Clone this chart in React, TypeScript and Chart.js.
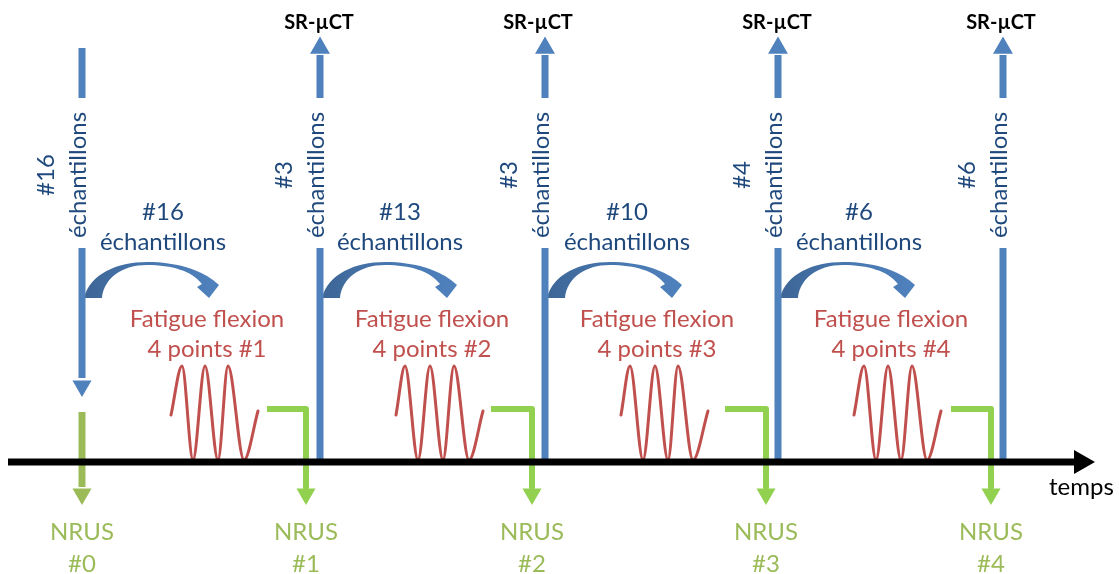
import React, { useEffect, useRef } from 'react';
import { Chart, registerables } from 'chart.js';

Chart.register(...registerables);

const W = 1119;
const H = 574;

// ---- time axis ----
const axisStartX = 8;
const axisEndX = 1075;
const axisArrowX = 1081;
const axisY = 462;
const axisLabel = 'temps';
const axisLabelX = 1049;
const axisLabelY = 495;

// ---- blue sample lines ----
const sampleLineX = [82, 320, 545, 778, 1003];
const sampleTopY = [48, 55, 55, 55, 55];
const gapTopY = 98;
const gapBottomY = 248;
const sampleBottomY = [378, 461, 461, 461, 461];
const srArrowX = [320, 545, 778, 1003];
const srArrowY = 48;
const firstDownArrowY = 386;

const srLabel = 'SR-µCT';
const srLabelX = [319, 538, 777, 1001];
const srLabelY = 29;

const sampleCounts = ['#16', '#3', '#3', '#4', '#6'];
const sampleWord = 'échantillons';
const rotatedLabelY = 175;

// ---- transfers (curved arrows) ----
const transferX = [82, 320, 545, 778];
const transferCounts = ['#16', '#13', '#10', '#6'];
const transferLabelX = [163, 400, 627, 859];
const transferLabelY = [220, 250];

// ---- fatigue ----
const fatigueTitle = 'Fatigue flexion';
const fatigueSub = ['4 points #1', '4 points #2', '4 points #3', '4 points #4'];
const fatigueLabelX = [207, 432, 657, 891];
const fatigueLabelY = [327, 357];
const waveX1 = [171, 182, 193, 205, 218, 228, 244, 258];
const waveX2 = [396, 405, 418, 430, 443, 454, 469, 483];
const waveX3 = [621, 630, 643, 655, 668, 678, 693, 708];
const waveX4 = [854, 864, 876, 888, 901, 912, 927, 941];
const waveY = [415, 366, 460, 366, 460, 366, 460, 411];

// ---- NRUS ----
const nrusX = [82, 306, 532, 766, 991];
const nrusLabels = ['#0', '#1', '#2', '#3', '#4'];
const nrusLabelY = [540, 572];
const greenStartX = [267, 491, 725, 951];
const greenY = 409;
const firstGreenTopY = 412;
const greenBottomY = 487;
const greenArrowY = 494;

const BLUE = '#4f81bd';
const DARK_BLUE = '#1f497d';
const RED = '#c0504d';
const GREEN = '#92d050';
const OLIVE = '#9bbb59';
const FONT = 'Lato, "Open Sans", sans-serif';

const pts = (xs: number[], ys: number[]) => xs.map((x, i) => ({ x, y: ys[i] }));

function lineDs(data: { x: number; y: number }[], color: string, width: number, extra: any = {}) {
  return {
    data,
    showLine: true,
    borderColor: color,
    borderWidth: width,
    pointRadius: 0,
    fill: false,
    tension: 0,
    clip: false,
    borderCapStyle: 'butt',
    borderJoinStyle: 'miter',
    ...extra,
  };
}

function arrowDs(data: { x: number; y: number }[], color: string, radius: number, rotation: number) {
  return {
    data,
    showLine: false,
    pointStyle: 'triangle',
    pointRadius: radius,
    pointRotation: rotation,
    pointBackgroundColor: color,
    pointBorderWidth: 0,
    pointBorderColor: color,
    clip: false,
  };
}

function buildDatasets() {
  const ds: any[] = [];
  // time axis
  ds.push(lineDs([{ x: axisStartX, y: axisY }, { x: axisEndX, y: axisY }], '#000000', 7));
  ds.push(arrowDs([{ x: axisArrowX, y: axisY }], '#000000', 14, 90));
  // blue sample lines
  sampleLineX.forEach((x, i) => {
    ds.push(lineDs([{ x, y: sampleTopY[i] }, { x, y: gapTopY }], BLUE, 7));
    ds.push(lineDs([{ x, y: gapBottomY }, { x, y: sampleBottomY[i] }], BLUE, 7));
  });
  ds.push(arrowDs(srArrowX.map((x) => ({ x, y: srArrowY })), BLUE, 11.5, 0));
  ds.push(arrowDs([{ x: sampleLineX[0], y: firstDownArrowY }], BLUE, 11, 180));
  // fatigue waves
  [waveX1, waveX2, waveX3, waveX4].forEach((xs) => {
    ds.push(lineDs(pts(xs, waveY), RED, 3, { cubicInterpolationMode: 'monotone', borderCapStyle: 'round' }));
  });
  // NRUS green
  ds.push(lineDs([{ x: nrusX[0], y: firstGreenTopY }, { x: nrusX[0], y: greenBottomY }], OLIVE, 7));
  greenStartX.forEach((sx, i) => {
    const x = nrusX[i + 1];
    ds.push(
      lineDs([{ x: sx, y: greenY }, { x, y: greenY }, { x, y: greenBottomY }], GREEN, 6, { borderJoinStyle: 'round' })
    );
  });
  ds.push(arrowDs([{ x: nrusX[0], y: greenArrowY }], OLIVE, 11, 180));
  ds.push(arrowDs(nrusX.slice(1).map((x) => ({ x, y: greenArrowY })), GREEN, 11, 180));
  return ds;
}

const diagramPlugin = {
  id: 'diagram',
  beforeDatasetsDraw(chart: any) {
    const { ctx } = chart;
    const sx = chart.scales.x;
    const sy = chart.scales.y;
    transferX.forEach((L) => {
      const X = (d: number) => sx.getPixelForValue(L + d);
      const Y = (v: number) => sy.getPixelForValue(v);
      ctx.save();
      const grad = ctx.createLinearGradient(X(0), 0, X(137), 0);
      grad.addColorStop(0, '#3d6595');
      grad.addColorStop(0.5, '#4777af');
      grad.addColorStop(1, '#4f81bd');
      ctx.fillStyle = grad;
      ctx.beginPath();
      ctx.moveTo(X(2), Y(298));
      ctx.bezierCurveTo(X(8), Y(274), X(35), Y(262), X(65), Y(262));
      ctx.bezierCurveTo(X(95), Y(262), X(118), Y(270), X(131), Y(280));
      ctx.lineTo(X(137), Y(285));
      ctx.lineTo(X(127), Y(298));
      ctx.lineTo(X(115), Y(287));
      ctx.lineTo(X(120), Y(284));
      ctx.bezierCurveTo(X(110), Y(271), X(90), Y(265), X(65), Y(265));
      ctx.bezierCurveTo(X(40), Y(265), X(22), Y(278), X(20), Y(298));
      ctx.closePath();
      ctx.fill();
      ctx.restore();
    });
  },
  afterDatasetsDraw(chart: any) {
    const { ctx } = chart;
    const sx = chart.scales.x;
    const sy = chart.scales.y;
    const X = (v: number) => sx.getPixelForValue(v);
    const Y = (v: number) => sy.getPixelForValue(v);
    const text = (s: string, x: number, y: number, color: string, font: string, align: CanvasTextAlign = 'center') => {
      ctx.save();
      ctx.fillStyle = color;
      ctx.font = font;
      ctx.textAlign = align;
      ctx.textBaseline = 'alphabetic';
      ctx.fillText(s, X(x), Y(y));
      ctx.restore();
    };
    const regular = `24px ${FONT}`;
    const bold = `bold 20px ${FONT}`;

    srLabelX.forEach((x) => text(srLabel, x, srLabelY, '#000000', bold));

    // rotated sample labels
    sampleLineX.forEach((L, i) => {
      ctx.save();
      ctx.translate(X(L), Y(rotatedLabelY));
      ctx.rotate(-Math.PI / 2);
      ctx.fillStyle = DARK_BLUE;
      ctx.font = regular;
      ctx.textAlign = 'center';
      ctx.textBaseline = 'alphabetic';
      ctx.fillText(sampleCounts[i], 0, -28);
      ctx.fillText(sampleWord, 0, 4);
      ctx.restore();
    });

    transferLabelX.forEach((x, i) => {
      text(transferCounts[i], x, transferLabelY[0], DARK_BLUE, regular);
      text(sampleWord, x, transferLabelY[1], DARK_BLUE, regular);
    });

    fatigueLabelX.forEach((x, i) => {
      text(fatigueTitle, x, fatigueLabelY[0], RED, regular);
      text(fatigueSub[i], x, fatigueLabelY[1], RED, regular);
    });

    nrusX.forEach((x, i) => {
      text('NRUS', x, nrusLabelY[0], OLIVE, regular);
      text(nrusLabels[i], x, nrusLabelY[1], OLIVE, regular);
    });

    text(axisLabel, axisLabelX, axisLabelY, '#000000', regular, 'left');
  },
};

export default function App() {
  const ref = useRef<HTMLCanvasElement | null>(null);
  useEffect(() => {
    if (!ref.current) return;
    const chart = new Chart(ref.current, {
      type: 'scatter',
      data: { datasets: buildDatasets() },
      options: {
        responsive: false,
        animation: false,
        events: [],
        layout: { padding: 0, autoPadding: false },
        plugins: { legend: { display: false }, tooltip: { enabled: false } },
        scales: {
          x: { type: 'linear', min: 0, max: W, display: false },
          y: { type: 'linear', min: 0, max: H, reverse: true, display: false },
        },
      } as any,
      plugins: [diagramPlugin],
    });
    return () => chart.destroy();
  }, []);
  return (
    <div style={{ position: 'absolute', left: 0, top: 0, width: W, height: H, background: '#ffffff' }}>
      <canvas ref={ref} width={W} height={H} style={{ display: 'block' }} />
    </div>
  );
}
